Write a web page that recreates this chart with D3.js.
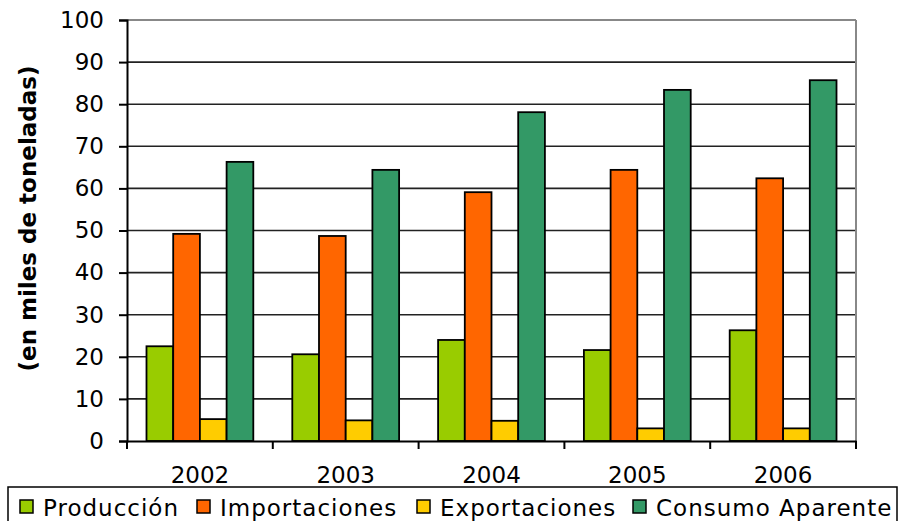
<!DOCTYPE html>
<html>
<head>
<meta charset="utf-8">
<script src="https://cdn.jsdelivr.net/npm/d3@7"></script>
<style>
  body { margin: 0; background: #fff; }
  svg text { font-family: "DejaVu Sans", Verdana, sans-serif; fill: #000; }
</style>
</head>
<body>
<div class="chart-container"></div>
<script>
// Data
const years = ["2002", "2003", "2004", "2005", "2006"];
const series = ["Producción", "Importaciones", "Exportaciones", "Consumo Aparente"];
const produccion = [22.5, 20.6, 24.0, 21.6, 26.3];
const importaciones = [49.2, 48.7, 59.1, 64.4, 62.4];
const exportaciones = [5.2, 4.9, 4.8, 3.0, 3.0];
const consumo = [66.3, 64.4, 78.1, 83.4, 85.7];
const yTicks = [0, 10, 20, 30, 40, 50, 60, 70, 80, 90, 100];
const colors = ["#99CC00", "#FF6600", "#FFCC00", "#339966"];

const values = [produccion, importaciones, exportaciones, consumo];
const data = years.map((yr, i) => ({ year: yr, vals: series.map((s, j) => ({ name: s, value: values[j][i], color: colors[j] })) }));

// Setup
const width = 900, height = 521;
const margin = { top: 20, bottom: 80, left: 127, right: 44 };
const svg = d3.select(".chart-container").append("svg")
  .attr("width", width).attr("height", height);

// Scales
const x = d3.scaleBand().domain(years).range([margin.left, width - margin.right]);
const x1 = d3.scaleBand().domain(series).range([0, x.bandwidth()]).paddingOuter(0.73).paddingInner(0);
const y = d3.scaleLinear().domain([0, 100]).range([height - margin.bottom, margin.top]);

// Gridlines
svg.append("g")
  .selectAll("line")
  .data(yTicks.filter(t => t > 0 && t < 100))
  .enter().append("line")
  .attr("x1", margin.left).attr("x2", width - margin.right)
  .attr("y1", d => y(d)).attr("y2", d => y(d))
  .attr("stroke", "#222").attr("stroke-width", 1.6);

// Plot border (top / right)
svg.append("line")
  .attr("x1", margin.left).attr("x2", width - margin.right)
  .attr("y1", y(100)).attr("y2", y(100))
  .attr("stroke", "#888").attr("stroke-width", 2);
svg.append("line")
  .attr("x1", width - margin.right).attr("x2", width - margin.right)
  .attr("y1", y(100)).attr("y2", y(0))
  .attr("stroke", "#888").attr("stroke-width", 2);

// Bars
const groups = svg.selectAll(".year")
  .data(data)
  .enter().append("g")
  .attr("transform", d => `translate(${x(d.year)},0)`);
groups.selectAll("rect")
  .data(d => d.vals)
  .enter().append("rect")
  .attr("x", d => x1(d.name))
  .attr("width", x1.bandwidth())
  .attr("y", d => y(d.value))
  .attr("height", d => y(0) - y(d.value))
  .attr("fill", d => d.color)
  .attr("stroke", "#000")
  .attr("stroke-width", 1.8);

// Y axis
const yAxis = svg.append("g")
  .attr("transform", `translate(${margin.left},0)`)
  .call(d3.axisLeft(y).tickValues(yTicks).tickSize(8).tickPadding(15));
yAxis.select(".domain").attr("stroke", "#000").attr("stroke-width", 2);
yAxis.selectAll(".tick line").attr("stroke", "#000").attr("stroke-width", 2);
yAxis.selectAll("text").style("font-size", "23px").attr("font-family", null);

// X axis
const xAxis = svg.append("g")
  .attr("transform", `translate(0,${y(0)})`)
  .call(d3.axisBottom(x).tickSize(0).tickPadding(26));
xAxis.select(".domain").attr("stroke", "#000").attr("stroke-width", 2);
xAxis.selectAll("text").style("font-size", "23px").attr("font-family", null);
// boundary ticks
svg.append("g")
  .selectAll("line")
  .data(years.concat(["end"]))
  .enter().append("line")
  .attr("x1", (d, i) => i < years.length ? x(d) : x.range()[1])
  .attr("x2", (d, i) => i < years.length ? x(d) : x.range()[1])
  .attr("y1", y(0)).attr("y2", y(0) + 8)
  .attr("stroke", "#000").attr("stroke-width", 2);

// Y title
svg.append("text")
  .attr("transform", `translate(36,${(y(0) + y(100)) / 2 - 12}) rotate(-90)`)
  .attr("text-anchor", "middle")
  .style("font-size", "23px")
  .style("font-weight", "bold")
  .text("(en miles de toneladas)");

// Legend
const legend = svg.append("g");
legend.append("rect")
  .attr("x", 8).attr("y", 487).attr("width", 889).attr("height", 40)
  .attr("fill", "#fff").attr("stroke", "#000").attr("stroke-width", 1.5);
const legX = [20, 197, 417, 633];
series.forEach((s, i) => {
  legend.append("rect")
    .attr("x", legX[i]).attr("y", 500).attr("width", 13).attr("height", 13)
    .attr("fill", colors[i]).attr("stroke", "#000").attr("stroke-width", 1.5);
  legend.append("text")
    .attr("x", legX[i] + 23).attr("y", 516)
    .style("font-size", "23px")
    .style("letter-spacing", "1px")
    .text(s);
});
</script>
</body>
</html>
